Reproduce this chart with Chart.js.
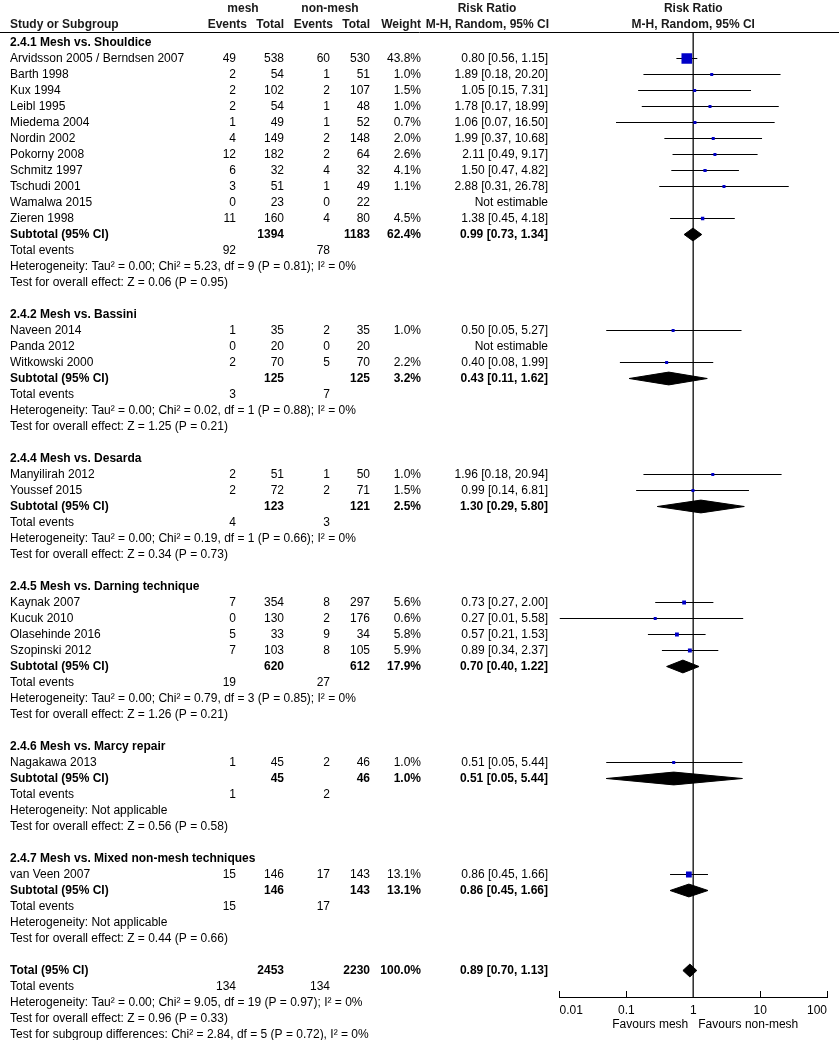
<!DOCTYPE html>
<html>
<head>
<meta charset="utf-8">
<script src="https://cdn.jsdelivr.net/npm/chart.js@4.4.0/dist/chart.umd.min.js"></script>
<style>
  html, body { margin: 0; padding: 0; background: #fff; }
  #wrap { position: relative; width: 839px; height: 1040px; }
</style>
</head>
<body>
<div id="wrap"><canvas id="forest"></canvas></div>
<script>
"use strict"

// ---- studies ----
var studyNames = [
  'Arvidsson 2005 / Berndsen 2007', 'Barth 1998', 'Kux 1994', 'Leibl 1995', 'Miedema 2004',
  'Nordin 2002', 'Pokorny 2008', 'Schmitz 1997', 'Tschudi 2001', 'Wamalwa 2015', 'Zieren 1998',
  'Naveen 2014', 'Panda 2012', 'Witkowski 2000',
  'Manyilirah 2012', 'Youssef 2015',
  'Kaynak 2007', 'Kucuk 2010', 'Olasehinde 2016', 'Szopinski 2012',
  'Nagakawa 2013',
  'van Veen 2007'
]
var studyGroup = [0, 0, 0, 0, 0, 0, 0, 0, 0, 0, 0, 1, 1, 1, 2, 2, 3, 3, 3, 3, 4, 5]
var meshEvents = [49, 2, 2, 2, 1, 4, 12, 6, 3, 0, 11, 1, 0, 2, 2, 2, 7, 0, 5, 7, 1, 15]
var meshTotal = [538, 54, 102, 54, 49, 149, 182, 32, 51, 23, 160, 35, 20, 70, 51, 72, 354, 130, 33, 103, 45, 146]
var ctrlEvents = [60, 1, 2, 1, 1, 2, 2, 4, 1, 0, 4, 2, 0, 5, 1, 2, 8, 2, 9, 8, 2, 17]
var ctrlTotal = [530, 51, 107, 48, 52, 148, 64, 32, 49, 22, 80, 35, 20, 70, 50, 71, 297, 176, 34, 105, 46, 143]
var weights = [43.8, 1.0, 1.5, 1.0, 0.7, 2.0, 2.6, 4.1, 1.1, null, 4.5, 1.0, null, 2.2, 1.0, 1.5, 5.6, 0.6, 5.8, 5.9, 1.0, 13.1]
var rr = [0.80, 1.89, 1.05, 1.78, 1.06, 1.99, 2.11, 1.50, 2.88, null, 1.38, 0.50, null, 0.40, 1.96, 0.99, 0.73, 0.27, 0.57, 0.89, 0.51, 0.86]
var ciLow = [0.56, 0.18, 0.15, 0.17, 0.07, 0.37, 0.49, 0.47, 0.31, null, 0.45, 0.05, null, 0.08, 0.18, 0.14, 0.27, 0.01, 0.21, 0.34, 0.05, 0.45]
var ciHigh = [1.15, 20.20, 7.31, 18.99, 16.50, 10.68, 9.17, 4.82, 26.78, null, 4.18, 5.27, null, 1.99, 20.94, 6.81, 2.00, 5.58, 1.53, 2.37, 5.44, 1.66]

// ---- subgroups ----
var groupTitles = ['2.4.1 Mesh vs. Shouldice', '2.4.2 Mesh vs. Bassini', '2.4.4 Mesh vs. Desarda',
  '2.4.5 Mesh vs. Darning technique', '2.4.6 Mesh vs. Marcy repair', '2.4.7 Mesh vs. Mixed non-mesh techniques']
var subMeshTotal = [1394, 125, 123, 620, 45, 146]
var subCtrlTotal = [1183, 125, 121, 612, 46, 143]
var subWeight = [62.4, 3.2, 2.5, 17.9, 1.0, 13.1]
var subRR = [0.99, 0.43, 1.30, 0.70, 0.51, 0.86]
var subLow = [0.73, 0.11, 0.29, 0.40, 0.05, 0.45]
var subHigh = [1.34, 1.62, 5.80, 1.22, 5.44, 1.66]
var subMeshEvents = [92, 3, 4, 19, 1, 15]
var subCtrlEvents = [78, 7, 3, 27, 2, 17]
var subHet = [
  'Heterogeneity: Tau² = 0.00; Chi² = 5.23, df = 9 (P = 0.81); I² = 0%',
  'Heterogeneity: Tau² = 0.00; Chi² = 0.02, df = 1 (P = 0.88); I² = 0%',
  'Heterogeneity: Tau² = 0.00; Chi² = 0.19, df = 1 (P = 0.66); I² = 0%',
  'Heterogeneity: Tau² = 0.00; Chi² = 0.79, df = 3 (P = 0.85); I² = 0%',
  'Heterogeneity: Not applicable',
  'Heterogeneity: Not applicable'
]
var subTest = [
  'Test for overall effect: Z = 0.06 (P = 0.95)',
  'Test for overall effect: Z = 1.25 (P = 0.21)',
  'Test for overall effect: Z = 0.34 (P = 0.73)',
  'Test for overall effect: Z = 1.26 (P = 0.21)',
  'Test for overall effect: Z = 0.56 (P = 0.58)',
  'Test for overall effect: Z = 0.44 (P = 0.66)'
]

// ---- overall ----
var totalCounts = [2453, 2230]
var totalEvents = [134, 134]
var totalWeight = 100.0
var totalEstimate = [0.89, 0.70, 1.13]
var totalNotes = [
  'Heterogeneity: Tau² = 0.00; Chi² = 9.05, df = 19 (P = 0.97); I² = 0%',
  'Test for overall effect: Z = 0.96 (P = 0.33)',
  'Test for subgroup differences: Chi² = 2.84, df = 5 (P = 0.72), I² = 0%'
]

var tickValues = [0.01, 0.1, 1, 10, 100]
var tickLabels = ['0.01', '0.1', '1', '10', '100']

var FONT = '"Liberation Sans", Arial, sans-serif'
Chart.defaults.font.family = FONT
Chart.defaults.font.size = 12
Chart.defaults.color = '#000'

// ---- row layout ----
var rows = []
var studyRow = []
var subRow = []
var r = 0
groupTitles.forEach(function (title, g) {
  rows.push({ kind: 'group', text: title, y: r++ })
  studyNames.forEach(function (n, i) {
    if (studyGroup[i] === g) { studyRow[i] = r; rows.push({ kind: 'study', i: i, y: r++ }) }
  })
  subRow[g] = r
  rows.push({ kind: 'subtotal', g: g, y: r++ })
  rows.push({ kind: 'events', a: subMeshEvents[g], b: subCtrlEvents[g], y: r++ })
  rows.push({ kind: 'note', text: subHet[g], y: r++ })
  rows.push({ kind: 'note', text: subTest[g], y: r++ })
  r++
})
var totalRow = r
rows.push({ kind: 'total', y: r++ })
rows.push({ kind: 'events', a: totalEvents[0], b: totalEvents[1], y: r++ })
totalNotes.forEach(function (t) { rows.push({ kind: 'note', text: t, y: r++ }) })

var ROW_H = 16
var yMin = -10.5 / ROW_H
var yMax = (997 - 42.5) / ROW_H

// ---- datasets ----
var datasets = []
var sq = [], sqR = []
studyNames.forEach(function (n, i) {
  if (rr[i] == null) return
  sq.push({ x: rr[i], y: studyRow[i] })
  var side = Math.max(3, 1.6 * Math.sqrt(weights[i]))
  sqR.push(side / Math.SQRT2)
  datasets.push({
    data: [{ x: ciLow[i], y: studyRow[i] }, { x: ciHigh[i], y: studyRow[i] }],
    showLine: true, borderColor: '#000', borderWidth: 1, pointRadius: 0, order: 1
  })
})
datasets.push({
  data: sq, pointStyle: 'rect', pointRadius: sqR, pointBorderWidth: 0,
  backgroundColor: '#0000c8', borderColor: '#0000c8', order: 0
})

function diamond(est, lo, hi, y) {
  var h = 0.4
  return {
    data: [{ x: lo, y: y }, { x: est, y: y - h }, { x: hi, y: y }, { x: est, y: y + h }, { x: lo, y: y }],
    showLine: true, fill: 'shape', backgroundColor: '#000', borderColor: '#000',
    borderWidth: 1, pointRadius: 0, order: 1
  }
}
subRR.forEach(function (v, g) { datasets.push(diamond(v, subLow[g], subHigh[g], subRow[g])) })
datasets.push(diamond(totalEstimate[0], totalEstimate[1], totalEstimate[2], totalRow))

datasets.push({
  data: [{ x: 1, y: yMin }, { x: 1, y: yMax }],
  showLine: true, borderColor: '#333', borderWidth: 1, pointRadius: 0, order: 2
})

// ---- table text ----
var COL = { name: 10, evA: 236, totA: 284, evB: 330, totB: 370, weight: 421, est: 548 }

function fmtCI(e, l, h) {
  return e.toFixed(2) + ' [' + l.toFixed(2) + ', ' + h.toFixed(2) + ']'
}

var tablePlugin = {
  id: 'forestTable',
  afterDraw: function (chart) {
    var ctx = chart.ctx
    var ys = chart.scales.y
    var xs = chart.scales.x
    var area = chart.chartArea
    ctx.save()
    ctx.textBaseline = 'middle'
    ctx.fillStyle = '#000'
    function put(text, x, y, align, bold) {
      ctx.font = (bold ? 'bold ' : '') + '12px ' + FONT
      ctx.textAlign = align
      ctx.fillText(String(text), x, y)
    }

    // header
    var h1 = area.top - 23, h2 = area.top - 7
    var mid = xs.getPixelForValue(1)
    ctx.fillStyle = '#1a1a1a'
    put('mesh', 243, h1, 'center', true)
    put('non-mesh', 330, h1, 'center', true)
    put('Risk Ratio', 487, h1, 'center', true)
    put('Risk Ratio', mid, h1, 'center', true)
    put('Study or Subgroup', COL.name, h2, 'left', true)
    put('Events', 247, h2, 'right', true)
    put('Total', COL.totA, h2, 'right', true)
    put('Events', 333, h2, 'right', true)
    put('Total', COL.totB, h2, 'right', true)
    put('Weight', COL.weight, h2, 'right', true)
    put('M-H, Random, 95% CI', 549, h2, 'right', true)
    put('M-H, Random, 95% CI', mid, h2, 'center', true)
    ctx.fillStyle = '#000'

    ctx.strokeStyle = '#000'
    ctx.lineWidth = 1
    ctx.beginPath()
    ctx.moveTo(0, Math.round(area.top) + 0.5)
    ctx.lineTo(chart.width, Math.round(area.top) + 0.5)
    ctx.stroke()

    rows.forEach(function (row) {
      var y = ys.getPixelForValue(row.y)
      if (row.kind === 'group') {
        put(row.text, COL.name, y, 'left', true)
      } else if (row.kind === 'study') {
        var i = row.i
        put(studyNames[i], COL.name, y, 'left')
        put(meshEvents[i], COL.evA, y, 'right')
        put(meshTotal[i], COL.totA, y, 'right')
        put(ctrlEvents[i], COL.evB, y, 'right')
        put(ctrlTotal[i], COL.totB, y, 'right')
        if (rr[i] == null) {
          put('Not estimable', COL.est, y, 'right')
        } else {
          put(weights[i].toFixed(1) + '%', COL.weight, y, 'right')
          put(fmtCI(rr[i], ciLow[i], ciHigh[i]), COL.est, y, 'right')
        }
      } else if (row.kind === 'subtotal') {
        var g = row.g
        put('Subtotal (95% CI)', COL.name, y, 'left', true)
        put(subMeshTotal[g], COL.totA, y, 'right', true)
        put(subCtrlTotal[g], COL.totB, y, 'right', true)
        put(subWeight[g].toFixed(1) + '%', COL.weight, y, 'right', true)
        put(fmtCI(subRR[g], subLow[g], subHigh[g]), COL.est, y, 'right', true)
      } else if (row.kind === 'total') {
        put('Total (95% CI)', COL.name, y, 'left', true)
        put(totalCounts[0], COL.totA, y, 'right', true)
        put(totalCounts[1], COL.totB, y, 'right', true)
        put(totalWeight.toFixed(1) + '%', COL.weight, y, 'right', true)
        put(fmtCI(totalEstimate[0], totalEstimate[1], totalEstimate[2]), COL.est, y, 'right', true)
      } else if (row.kind === 'events') {
        put('Total events', COL.name, y, 'left')
        put(row.a, COL.evA, y, 'right')
        put(row.b, COL.evB, y, 'right')
      } else {
        put(row.text, COL.name, y, 'left')
      }
    })

    // favours labels under the axis
    var fy = area.bottom + 28
    put('Favours mesh', mid - 5, fy, 'right')
    put('Favours non-mesh', mid + 5, fy, 'left')
    ctx.restore()
  }
}

var ctx = document.getElementById('forest').getContext('2d')
var forest = new Chart(ctx, {
  type: 'scatter',
  data: { datasets: datasets },
  options: {
    responsive: true,
    maintainAspectRatio: false,
    animation: false,
    layout: { padding: { left: 559.5, right: 11.5, top: 32, bottom: 0 } },
    plugins: { legend: { display: false }, tooltip: { enabled: false } },
    scales: {
      x: {
        type: 'logarithmic',
        min: 0.01,
        max: 100,
        afterBuildTicks: function (s) { s.ticks = tickValues.map(function (v) { return { value: v } }) },
        afterFit: function (s) { s.height = 43 },
        border: { color: '#000', width: 1 },
        grid: { drawOnChartArea: false, drawTicks: true, tickLength: -6, color: '#000' },
        ticks: {
          align: 'inner', padding: 12, color: '#000', autoSkip: false, maxRotation: 0,
          font: { size: 12 },
          callback: function (v) { var k = tickValues.indexOf(v); return k >= 0 ? tickLabels[k] : '' }
        }
      },
      y: { type: 'linear', reverse: true, min: yMin, max: yMax, display: false }
    }
  },
  plugins: [tablePlugin]
})
</script>
</body>
</html>
